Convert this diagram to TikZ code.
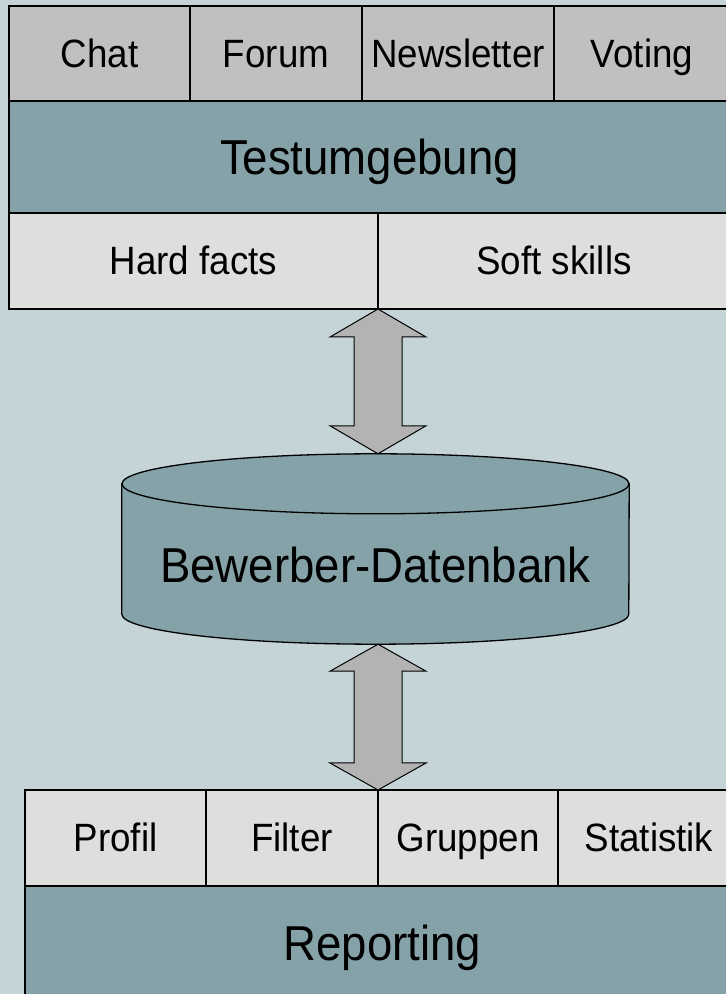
\documentclass[tikz,border=0pt]{standalone}
\usepackage{fontspec}
\setmainfont[FakeStretch=0.93]{Liberation Sans}
\usepackage{tikz}
\usetikzlibrary{positioning, calc}

\definecolor{bgblue}{RGB}{196,212,215}
\definecolor{tealband}{RGB}{132,162,168}
\definecolor{midgray}{RGB}{192,192,192}
\definecolor{lightgray}{RGB}{222,222,222}
\definecolor{arrowgray}{RGB}{179,179,179}

\begin{document}
\begin{tikzpicture}[x=1pt, y=1pt]
\tikzstyle{cell}=[rectangle, draw=black, line width=1.3pt, inner sep=0pt, outer sep=0pt, anchor=south west, font=\fontsize{39.5}{42}\selectfont, text height=28pt, text depth=0pt]
\tikzstyle{topcell}=[cell, fill=midgray, minimum height=95pt]
\tikzstyle{subcell}=[cell, fill=lightgray, minimum height=96pt]
\tikzstyle{band}=[cell, fill=tealband, font=\fontsize{49}{52}\selectfont, text height=35pt]
\tikzstyle{fat}=[draw=black, fill=arrowgray, line width=1pt, line join=miter]
\fill[bgblue] (0,0) rectangle (726,994);
\useasboundingbox (0,0) rectangle (726,994);
\clip (0,0) rectangle (726,994);
% Testumgebung
\node[topcell, minimum width=181pt] (chat) at (9,893) {Chat};
\node[topcell, minimum width=172pt] (forum) at (190,893) {Forum};
\node[topcell, minimum width=192pt] (news) at (362,893) {Newsletter};
\node[topcell, minimum width=176pt] (voting) at (554,893) {Voting};
\node[band, minimum width=721pt, minimum height=112pt] (test) at (9,781) {Testumgebung};
\node[subcell, minimum width=369pt] (hard) at (9,685) {Hard facts};
\node[subcell, minimum width=352pt] (soft) at (378,685) {Soft skills};
% Datenbank
\node[inner sep=0pt, minimum width=507pt, minimum height=190pt] (db) at (375.5,445) {};
\filldraw[fill=tealband, draw=black, line width=1.3pt] ($(db.north west)+(0,-30)$) -- ($(db.south west)+(0,30)$)
  arc[start angle=180, end angle=360, x radius=253.5, y radius=30] -- ($(db.north east)+(0,-30)$) -- cycle;
\filldraw[fill=tealband, draw=black, line width=1.3pt] ($(db.north)+(0,-30)$) ellipse [x radius=253.5, y radius=30];
\node[font=\fontsize{49}{52}\selectfont, text height=35pt, text depth=0pt, inner sep=0pt] (dblabel) at ($(db.center)+(0,-16)$) {Bewerber-Datenbank};
% Reporting
\node[subcell, minimum width=181pt] (profil) at (25,108) {Profil};
\node[subcell, minimum width=172pt] (filter) at (206,108) {Filter};
\node[subcell, minimum width=180pt] (gruppen) at (378,108) {Gruppen};
\node[subcell, minimum width=182pt] (stat) at (558,108) {Statistik};
\node[band, minimum width=715pt, minimum height=114pt] (report) at (25,-6) {Reporting};
% arrows
\coordinate (a1) at (hard.south east);
\coordinate (a2) at (hard.south east |- db.north);
\coordinate (b1) at (filter.north east |- db.south);
\coordinate (b2) at (filter.north east);
\draw[fat] (a1) -- ++(48,-28) -- ++(-24,0) -- ($(a2)+(24,28)$) -- ++(24,0) -- (a2)
  -- ++(-48,28) -- ++(24,0) -- ($(a1)+(-24,-28)$) -- ++(-24,0) -- cycle;
\draw[fat] (b1) -- ++(48,-27) -- ++(-24,0) -- ($(b2)+(24,27)$) -- ++(24,0) -- (b2)
  -- ++(-48,27) -- ++(24,0) -- ($(b1)+(-24,-27)$) -- ++(-24,0) -- cycle;
\end{tikzpicture}
\end{document}
